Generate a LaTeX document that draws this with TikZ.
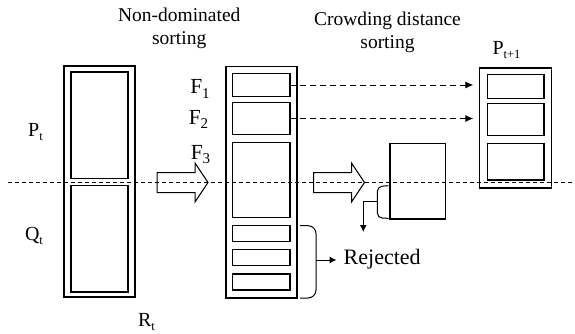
\documentclass[tikz,border=0pt]{standalone}
\usepackage{fontspec}
\setmainfont{Liberation Serif}
\usetikzlibrary{arrows.meta}
\newcommand\sbs[2]{\raisebox{-#1}{\fontsize{#2}{#2}\selectfont #2}}
\newcommand\lowidx[3]{\raisebox{-#1}{\fontsize{#2}{#2}\selectfont #3}}
\begin{document}
\begin{tikzpicture}[x=1pt,y=-1pt,
  box/.style={draw, line width=1.2pt, inner sep=0pt, outer sep=0pt},
  lbl/.style={inner sep=0pt, font=\fontsize{20}{24}\selectfont},
  flbl/.style={inner sep=0pt, font=\fontsize{21.5}{24}\selectfont},
  head/.style={inner sep=0pt, align=center, font=\fontsize{19.5}{22.5}\selectfont},
  dashline/.style={line width=0.8pt, dash pattern=on 4pt off 3pt},
  dasharrow/.style={line width=0.9pt, dash pattern=on 6pt off 4pt, -{Latex[length=8pt,width=7pt]}},
  solidarrow/.style={line width=1pt, -{Latex[length=7pt,width=7pt]}},
  harrow/.pic={\draw[line width=1pt] (0,-10) -- (38,-10) -- (38,-19.5) -- (51,0) -- (38,19.5) -- (38,10) -- (0,10) -- cycle;}
]
\useasboundingbox (0,0) rectangle (575,334);

% left column R_t
\node[box, minimum width=71pt, minimum height=231pt] (Rout) at (99.5,181.5) {};
\node[box, minimum width=57pt, minimum height=106.7pt] (Pin) at (99.5,125.3) {};
\node[box, minimum width=57pt, minimum height=106.7pt] (Qin) at (99.5,238.7) {};

% middle column
\node[box, minimum width=71pt, minimum height=231.3pt] (Mout) at (261.5,182.3) {};
\node[box, minimum width=57.7pt, minimum height=23.4pt] (F1) at (261.2,85) {};
\node[box, minimum width=57.7pt, minimum height=32.4pt] (F2) at (261.2,118.5) {};
\node[box, minimum width=57.7pt, minimum height=75pt] (F3) at (261.2,179.8) {};
\node[box, minimum width=57.7pt, minimum height=16pt] (J1) at (261.2,233.7) {};
\node[box, minimum width=57.7pt, minimum height=16.4pt] (J2) at (261.2,257.5) {};
\node[box, minimum width=57.7pt, minimum height=16pt] (J3) at (261.2,282) {};

% crowding box
\node[box, minimum width=55.7pt, minimum height=75.7pt] (CB) at (417.8,181.2) {};

% right column P_{t+1}
\node[box, minimum width=72pt, minimum height=120pt] (Nout) at (515.3,128) {};
\node[box, minimum width=56.7pt, minimum height=24pt] (B1) at (515.7,86.3) {};
\node[box, minimum width=56.7pt, minimum height=32.4pt] (B2) at (515.7,119.5) {};
\node[box, minimum width=56.7pt, minimum height=36.7pt] (B3) at (515.7,161.7) {};

% hollow arrows
\pic at (157,182.5) {harrow};
\pic at (313.5,182.5) {harrow};

% labels
\node[head] (h1) at (179.2,28.5) {Non-dominated\\sorting};
\node[head] (h2) at (387.5,32.5) {Crowding distance\\sorting};
\node[lbl] (Pt1) at (506.5,50) {P\lowidx{0.22em}{12.5}{t+1}};
\node[lbl] (Pt) at (35.5,132) {P\lowidx{0.22em}{12.5}{t}};
\node[lbl] (Qt) at (34,236) {Q\lowidx{0.22em}{12.5}{t}};
\node[lbl] (Rt) at (146.5,322) {R\lowidx{0.22em}{12.5}{t}};
\node[flbl] (lF1) at (200,89) {F\lowidx{0.2em}{15}{1}};
\node[flbl] (lF2) at (198.5,119.5) {F\lowidx{0.2em}{15}{2}};
\node[flbl] (lF3) at (200.5,154.5) {F\lowidx{0.2em}{15}{3}};
\node[inner sep=0pt, anchor=west, font=\fontsize{22}{24}\selectfont] (rej) at (343.5,259.5) {Rejected};

% dashed arrows to P_{t+1}
\draw[dasharrow, shorten >=6pt] (F1.east) -- (F1.east -| Nout.west);
\draw[dasharrow, shorten >=6pt] (F2.east) -- (F2.east -| Nout.west);

% rejected brace
\coordinate (rb1) at (300,225.7);
\coordinate (rb2) at (300,298);
\coordinate (rbm) at (316,260);
\draw[line width=1pt, rounded corners=8pt] (rb1) -- (316,225.7) -- (316,298) -- (rb2);
\draw[solidarrow, shorten >=7pt] (rbm) -- (rej.west |- rbm);

% crowding bracket
\coordinate (cb1) at (388.5,185.7);
\coordinate (cb2) at (388.5,218.3);
\coordinate (cbm) at (377.3,201.5);
\coordinate (cbe) at (363.3,232);
\draw[line width=1pt, rounded corners=5pt] (cb1) -- (377.3,186.5) -- (377.3,218) -- (cb2);
\draw[solidarrow] (cbm) -- (cbm -| cbe) -- (cbe);

% horizontal dashed line
\coordinate (dl) at (8,182);
\coordinate (dr) at (575,182);
\draw[dashline] (dl) -- (dr);
\end{tikzpicture}
\end{document}
